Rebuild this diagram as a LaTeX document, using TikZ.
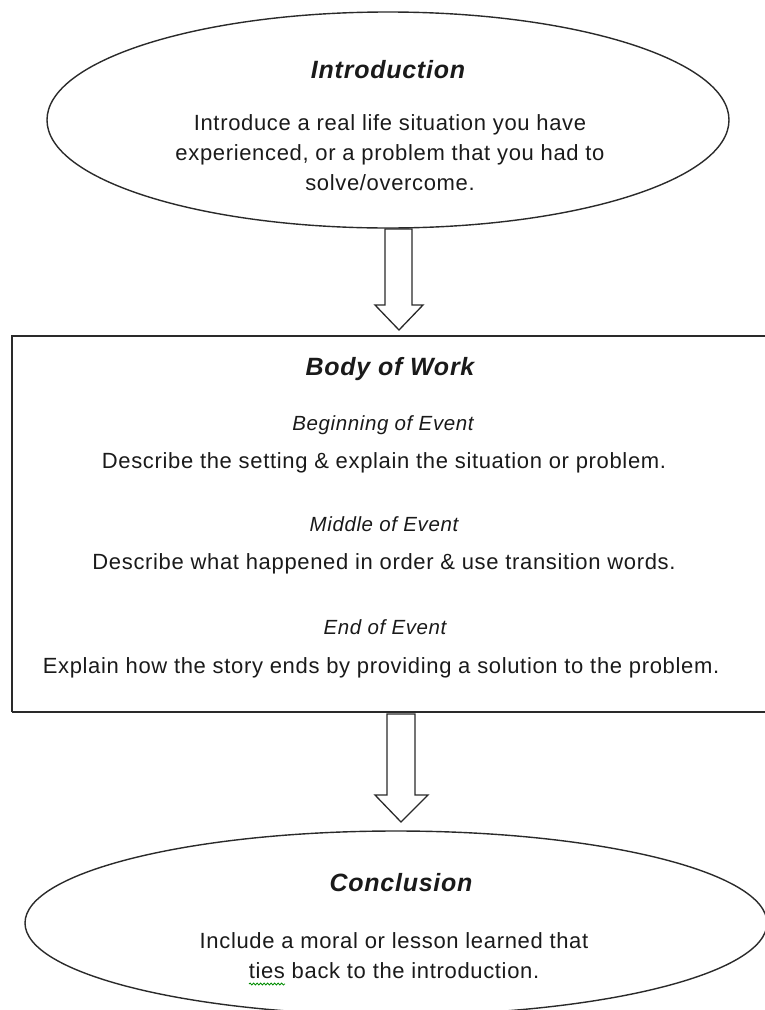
\documentclass[tikz,border=0pt]{standalone}
\usepackage{fontspec}
\setmainfont{Liberation Sans}
\newfontfamily\spacedfont[LetterSpace=3]{Liberation Sans}
\usetikzlibrary{decorations.pathmorphing}
\definecolor{ink}{HTML}{1A1A1A}
\definecolor{edge}{HTML}{2A2A2A}
\tikzset{
  shapeline/.style={draw=edge, line width=1.4bp},
  title/.style={font=\spacedfont\fontsize{25bp}{28bp}\selectfont\bfseries\itshape, text=ink, anchor=base, inner sep=0pt},
  sub/.style={font=\spacedfont\fontsize{20.5bp}{23bp}\selectfont\itshape, text=ink, anchor=base, inner sep=0pt},
  body/.style={font=\spacedfont\fontsize{22bp}{30bp}\selectfont, text=ink, anchor=base, inner sep=0pt, align=center},
  blockarrow/.style={draw=edge, line width=1.3bp, fill=white},
}
\begin{document}
\begin{tikzpicture}[x=1bp,y=-1bp]
\useasboundingbox (0,0) rectangle (765,1010);
\clip (0,0) rectangle (765,1010);
% Introduction ellipse
\draw[shapeline] (388,120) ellipse [x radius=341, y radius=108];
\node[title] (introT) at (388,78) {Introduction};
\node[body] (intro1) at (390,130) {Introduce a real life situation you have};
\node[body] (intro2) at (390,160) {experienced, or a problem that you had to};
\node[body] (intro3) at (390,190) {solve/overcome.};
% Body box
\draw[shapeline] (12,712) -- (12,336) -- (775,336);
\draw[shapeline] (12,712) -- (775,712);
\node[title] (bodyT) at (390,375) {Body of Work};
\node[sub] (beg) at (383,430) {Beginning of Event};
\node[body] (beg1) at (384,468) {Describe the setting \& explain the situation or problem.};
\node[sub] (mid) at (384,531) {Middle of Event};
\node[body] (mid1) at (384,569) {Describe what happened in order \& use transition words.};
\node[sub] (endE) at (385,634) {End of Event};
\node[body] (end1) at (381,673) {Explain how the story ends by providing a solution to the problem.};
% Conclusion ellipse
\draw[shapeline] (396,923) ellipse [x radius=371, y radius=92];
\node[title] (concT) at (401,891) {Conclusion};
\node[body] (conc1) at (394,948) {Include a moral or lesson learned that};
\node[body] (conc2) at (394,978) {ties back to the introduction.};
\draw[green!55!black, line width=0.8bp, decorate, decoration={snake, amplitude=1bp, segment length=3.5bp}] (249,984) -- (285,984);
% Block arrows
\draw[blockarrow] (385,229) -- (412,229) -- (412,305) -- (423,305) -- (399,330) -- (375,305) -- (385,305) -- cycle;
\draw[blockarrow] (387,714) -- (415,714) -- (415,795) -- (428,795) -- (401,822) -- (375,795) -- (387,795) -- cycle;
\end{tikzpicture}
\end{document}
